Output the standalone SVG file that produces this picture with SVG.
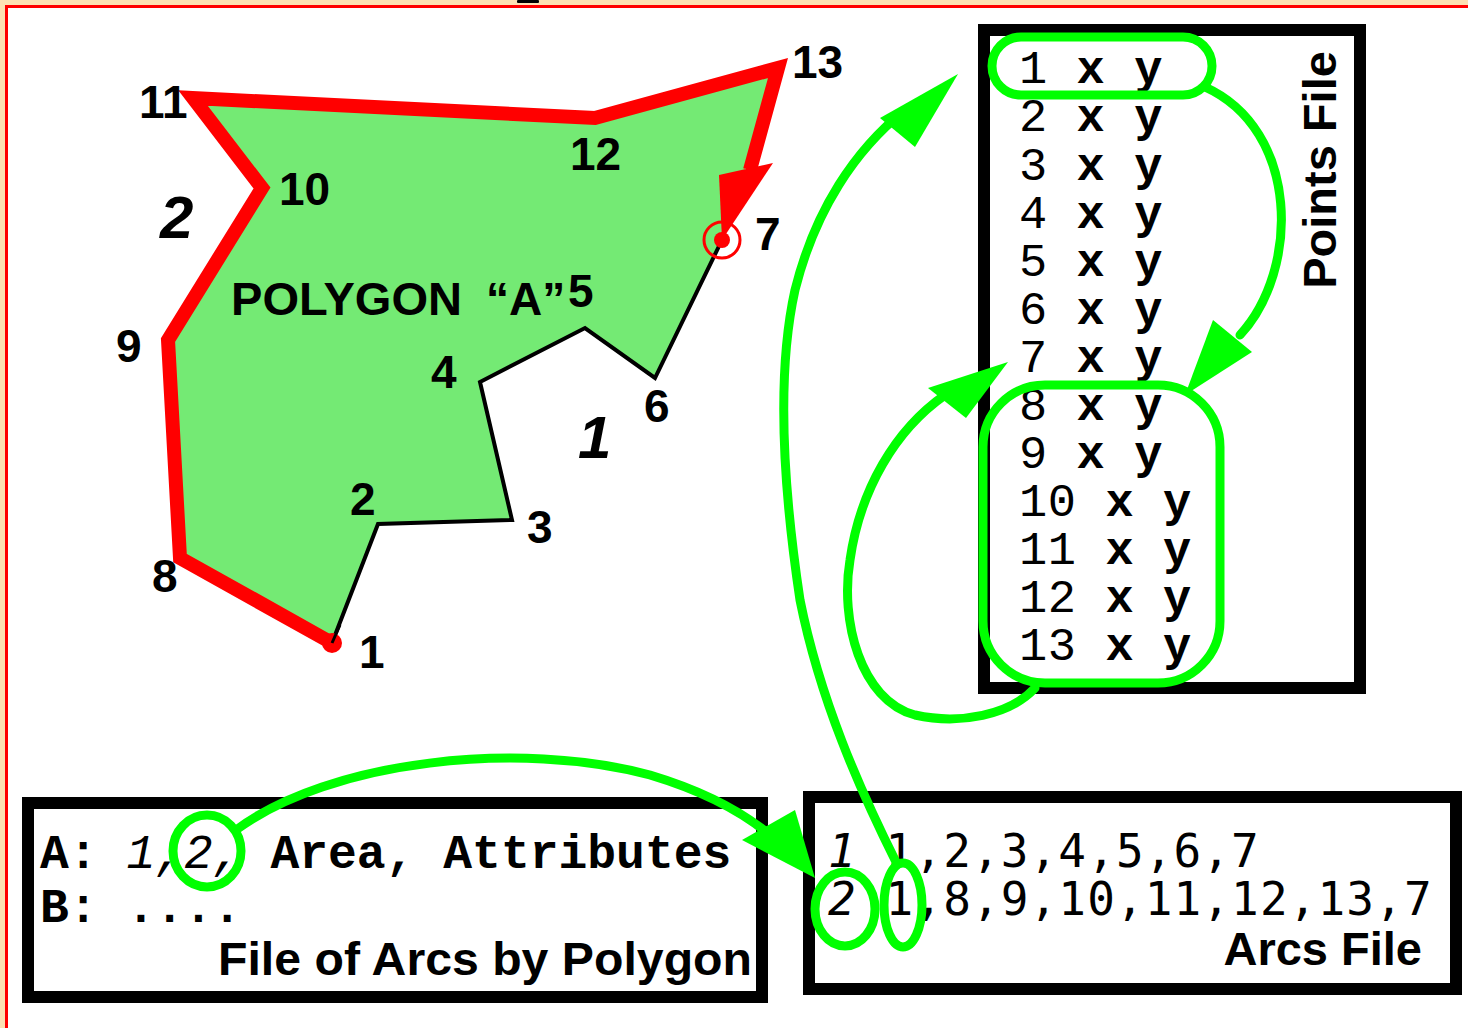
<svg xmlns="http://www.w3.org/2000/svg" width="1468" height="1028" viewBox="0 0 1468 1028">
<defs>
<style>
.lbl{font-family:"Liberation Sans",Arial,sans-serif;font-weight:bold;font-size:46px;fill:#000}
.big{font-family:"Liberation Sans",Arial,sans-serif;font-weight:bold;font-style:italic;font-size:60px;fill:#000}
.ttl{font-family:"Liberation Sans",Arial,sans-serif;font-weight:bold;font-size:47px;fill:#000}
.pt{font-family:"Liberation Mono","Courier New",monospace;font-size:47px;letter-spacing:0.6px;fill:#000}
.cr{font-family:"Liberation Mono","Courier New",monospace;font-size:48px;letter-spacing:0px;font-weight:bold;fill:#000}
.arc{font-family:"DejaVu Sans Mono",monospace;font-size:46px;letter-spacing:1.1px;fill:#000}
.box{fill:#fff;stroke:#000;stroke-width:12}
.g{fill:none;stroke:#00FF00;stroke-width:9;stroke-linecap:round;stroke-linejoin:round}
.gh{fill:#00FF00;stroke:none}
.b{font-weight:bold}
.i{font-style:italic;font-weight:normal}
</style>
</defs>
<rect x="0" y="0" width="1468" height="1028" fill="#FDE1B4"/>
<rect x="5" y="5" width="1463" height="1023" fill="#FF0000"/>
<rect x="8" y="8" width="1460" height="1020" fill="#ffffff"/>
<rect x="517" y="0" width="22" height="3" rx="1" fill="#000"/>

<g id="polygon">
<polygon points="332,643 378,524 512,520 480,382 585,328 655,378 722,240 778,68 595,118 193,98 262,188 168,340 180,558" fill="#74EA74"/>
<polyline points="332,643 378,524 512,520 480,382 585,328 655,378 722,240" fill="none" stroke="#000" stroke-width="4" stroke-linejoin="miter"/>
<polyline points="332,643 180,558 168,340 262,188 193,98 595,118 778,68 750,170" fill="none" stroke="#FF0000" stroke-width="14" stroke-linejoin="miter" stroke-miterlimit="6"/>
<polygon points="719,175 773,163 722,240" fill="#FF0000"/>
<circle cx="332" cy="643" r="10" fill="#FF0000"/>
<circle cx="722" cy="240" r="8" fill="#FF0000"/>
<circle cx="722" cy="240" r="18" fill="none" stroke="#FF0000" stroke-width="3"/>
<line x1="332" y1="643" x2="340" y2="625" stroke="#000" stroke-width="3"/>
</g>

<g id="labels">
<text class="lbl" x="139" y="118">11</text>
<text class="lbl" x="792" y="78">13</text>
<text class="lbl" x="570" y="170">12</text>
<text class="lbl" x="279" y="205">10</text>
<text class="big" x="160" y="238">2</text>
<text class="lbl" x="755" y="250">7</text>
<text class="lbl" x="231" y="315" textLength="231" lengthAdjust="spacingAndGlyphs">POLYGON</text>
<text class="lbl" x="486" y="315">“A”</text>
<text class="lbl" x="568" y="307">5</text>
<text class="lbl" x="116" y="362">9</text>
<text class="lbl" x="431" y="388">4</text>
<text class="lbl" x="644" y="422">6</text>
<text class="big" x="578" y="458">1</text>
<text class="lbl" x="350" y="515">2</text>
<text class="lbl" x="527" y="543">3</text>
<text class="lbl" x="152" y="592">8</text>
<text class="lbl" x="359" y="668">1</text>
</g>

<g id="points-file">
<rect class="box" x="984" y="30" width="376" height="658"/>
<text class="ttl" transform="translate(1336,170) rotate(-90)" text-anchor="middle">Points File</text>
<text class="pt" x="1019" y="83">1 <tspan class="b">x y</tspan></text>
<text class="pt" x="1019" y="131">2 <tspan class="b">x y</tspan></text>
<text class="pt" x="1019" y="180">3 <tspan class="b">x y</tspan></text>
<text class="pt" x="1019" y="228">4 <tspan class="b">x y</tspan></text>
<text class="pt" x="1019" y="276">5 <tspan class="b">x y</tspan></text>
<text class="pt" x="1019" y="324">6 <tspan class="b">x y</tspan></text>
<text class="pt" x="1019" y="372">7 <tspan class="b">x y</tspan></text>
<text class="pt" x="1019" y="420">8 <tspan class="b">x y</tspan></text>
<text class="pt" x="1019" y="468">9 <tspan class="b">x y</tspan></text>
<text class="pt" x="1019" y="516">10 <tspan class="b">x y</tspan></text>
<text class="pt" x="1019" y="564">11 <tspan class="b">x y</tspan></text>
<text class="pt" x="1019" y="612">12 <tspan class="b">x y</tspan></text>
<text class="pt" x="1019" y="660">13 <tspan class="b">x y</tspan></text>
</g>

<g id="polygon-file">
<rect class="box" x="28" y="803" width="734" height="194"/>
<text class="cr" x="40" y="868">A: <tspan class="i">1,2,</tspan> Area, Attributes</text>
<text class="cr" x="40" y="922">B: ....</text>
<text class="ttl" x="218" y="975" textLength="534" lengthAdjust="spacingAndGlyphs">File of Arcs by Polygon</text>
</g>

<g id="arcs-file">
<rect class="box" x="809" y="797" width="647" height="192"/>
<text class="arc" x="828" y="867"><tspan font-style="italic">1</tspan> 1,2,3,4,5,6,7</text>
<text class="arc" x="828" y="915"><tspan font-style="italic">2</tspan> 1,8,9,10,11,12,13,7</text>
<text class="ttl" x="1422" y="965" text-anchor="end">Arcs File</text>
</g>

<g id="connectors">
<rect class="g" x="992" y="37" width="220" height="58" rx="29"/>
<rect class="g" x="983" y="385" width="237" height="298" rx="62"/>
<ellipse class="g" cx="207" cy="851" rx="34" ry="36"/>
<ellipse class="g" cx="845" cy="909" rx="30" ry="37"/>
<ellipse class="g" cx="903" cy="905" rx="19" ry="42"/>
<path class="g" d="M236,830 C330,760 520,740 650,775 C700,790 740,810 770,835"/>
<polygon class="gh" points="742,840 795,810 815,878"/>
<path class="g" d="M897,864 C860,790 820,700 800,600 C785,500 775,380 795,290 C815,210 855,150 905,110"/>
<polygon class="gh" points="880,118 958,74 915,147"/>
<path class="g" d="M1205,87 C1300,130 1300,270 1240,335"/>
<polygon class="gh" points="1213,320 1252,352 1185,395"/>
<path class="g" d="M1035,688 C1010,715 960,725 915,715 C860,700 840,620 850,560 C860,490 895,430 945,395"/>
<polygon class="gh" points="928,388 1008,362 966,418"/>
</g>
</svg>
